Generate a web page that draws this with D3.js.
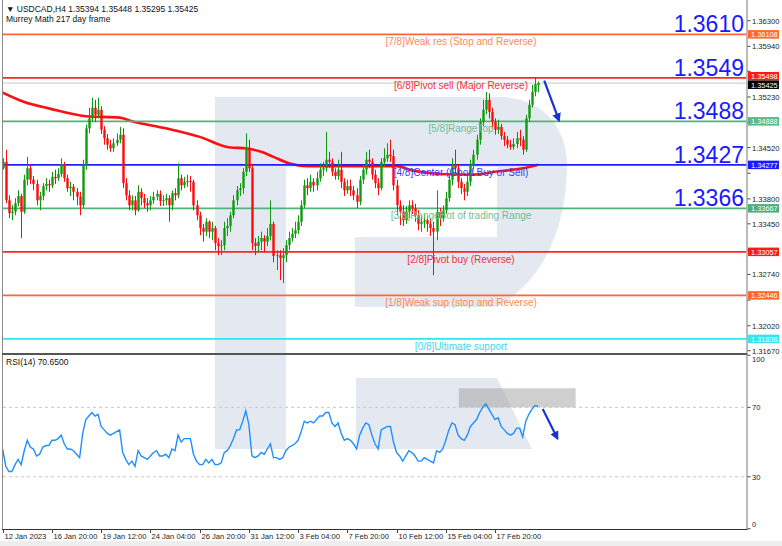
<!DOCTYPE html>
<html><head><meta charset="utf-8">
<script src="https://cdn.jsdelivr.net/npm/d3@7"></script>
<style>body{margin:0;background:#fff}svg{display:block}text{font-family:"Liberation Sans",Arial,sans-serif}</style>
</head><body>
<svg id="c" width="782" height="546"></svg>
<script>
// ---------------- DATA ----------------
const openP=[1.3423,1.3432,1.3378,1.3360,1.3362,1.3374,1.3384,1.3362,1.3407,1.3423,
1.3407,1.3401,1.3378,1.3384,1.3398,1.3401,1.3399,1.3411,1.3409,1.3415,
1.3429,1.3409,1.3395,1.3397,1.3390,1.3383,1.3371,1.3428,1.3479,1.3493,
1.3508,1.3498,1.3505,1.3477,1.3465,1.3456,1.3451,1.3458,1.3463,1.3470,
1.3402,1.3385,1.3371,1.3378,1.3364,1.3390,1.3381,1.3374,1.3371,1.3378,
1.3383,1.3387,1.3377,1.3378,1.3381,1.3371,1.3388,1.3385,1.3409,1.3399,
1.3404,1.3405,1.3404,1.3371,1.3357,1.3339,1.3334,1.3348,1.3334,1.3339,
1.3318,1.3314,1.3315,1.3339,1.3342,1.3357,1.3378,1.3392,1.3395,1.3418,
1.3451,1.3423,1.3318,1.3314,1.3320,1.3325,1.3320,1.3328,1.3345,1.3300,
1.3301,1.3297,1.3301,1.3315,1.3325,1.3331,1.3336,1.3348,1.3371,1.3399,
1.3395,1.3404,1.3399,1.3409,1.3421,1.3423,1.3435,1.3432,1.3418,1.3412,
1.3421,1.3404,1.3392,1.3398,1.3392,1.3385,1.3376,1.3407,1.3421,1.3435,
1.3432,1.3414,1.3402,1.3395,1.3432,1.3437,1.3442,1.3440,1.3399,1.3371,
1.3362,1.3350,1.3362,1.3371,1.3367,1.3357,1.3345,1.3348,1.3350,1.3345,
1.3339,1.3334,1.3362,1.3353,1.3364,1.3381,1.3407,1.3428,1.3423,1.3404,
1.3395,1.3390,1.3404,1.3428,1.3442,1.3463,1.3488,1.3505,1.3519,1.3502,
1.3488,1.3477,1.3481,1.3468,1.3463,1.3456,1.3453,1.3457,1.3465,1.3463,
1.3449,1.3493,1.3512,1.3530,1.35394];
const highP=[1.3437,1.3449,1.3385,1.3371,1.3381,1.3392,1.3387,1.3414,1.3439,1.3428,
1.3412,1.3407,1.3390,1.3402,1.3409,1.3407,1.3418,1.3421,1.3423,1.3437,
1.3432,1.3414,1.3404,1.3401,1.3395,1.3390,1.3435,1.3484,1.3508,1.3522,
1.3519,1.3522,1.3510,1.3482,1.3471,1.3463,1.3465,1.3472,1.3481,1.3479,
1.3409,1.3392,1.3385,1.3384,1.3399,1.3395,1.3387,1.3381,1.3384,1.3390,
1.3392,1.3392,1.3385,1.3387,1.3385,1.3392,1.3395,1.3430,1.3414,1.3411,
1.3414,1.3412,1.3407,1.3378,1.3362,1.3345,1.3353,1.3350,1.3348,1.3342,
1.3325,1.3322,1.3348,1.3353,1.3362,1.3385,1.3398,1.3402,1.3423,1.3472,
1.3463,1.3428,1.3325,1.3328,1.3334,1.3329,1.3339,1.3378,1.3348,1.3308,
1.3308,1.3311,1.3322,1.3334,1.3339,1.3348,1.3357,1.3378,1.3407,1.3409,
1.3414,1.3409,1.3418,1.3430,1.3432,1.3474,1.3446,1.3437,1.3423,1.3435,
1.3446,1.3409,1.3407,1.3407,1.3398,1.3395,1.3412,1.3428,1.3446,1.3449,
1.3437,1.3421,1.3409,1.3437,1.3451,1.3458,1.3463,1.3449,1.3407,1.3378,
1.3371,1.3370,1.3378,1.3378,1.3373,1.3364,1.3356,1.3359,1.3356,1.3353,
1.3348,1.3392,1.3367,1.3371,1.3390,1.3414,1.3437,1.3449,1.3429,1.3409,
1.3401,1.3412,1.3435,1.3449,1.3470,1.3493,1.3519,1.3530,1.3528,1.3508,
1.3493,1.3491,1.3485,1.3474,1.3468,1.3463,1.3465,1.3474,1.3477,1.3468,
1.3498,1.3519,1.3540,1.3551,1.35448];
const lowP=[1.3421,1.3374,1.3353,1.3350,1.3357,1.3370,1.3325,1.3359,1.3399,1.3401,
1.3392,1.3371,1.3364,1.3378,1.3392,1.3390,1.3395,1.3401,1.3405,1.3411,
1.3404,1.3390,1.3384,1.3378,1.3371,1.3357,1.3367,1.3421,1.3472,1.3488,
1.3488,1.3493,1.3471,1.3456,1.3449,1.3446,1.3446,1.3454,1.3458,1.3395,
1.3378,1.3364,1.3364,1.3357,1.3362,1.3371,1.3367,1.3362,1.3364,1.3373,
1.3378,1.3370,1.3370,1.3371,1.3348,1.3364,1.3378,1.3381,1.3392,1.3395,
1.3397,1.3390,1.3364,1.3350,1.3329,1.3320,1.3328,1.3325,1.3322,1.3308,
1.3301,1.3301,1.3308,1.3328,1.3334,1.3353,1.3371,1.3384,1.3387,1.3412,
1.3418,1.3308,1.3301,1.3305,1.3308,1.3305,1.3314,1.3322,1.3291,1.3280,
1.3266,1.3262,1.3291,1.3308,1.3320,1.3325,1.3331,1.3342,1.3367,1.3385,
1.3390,1.3390,1.3392,1.3404,1.3412,1.3418,1.3423,1.3412,1.3407,1.3407,
1.3395,1.3384,1.3387,1.3384,1.3378,1.3367,1.3371,1.3401,1.3414,1.3423,
1.3407,1.3395,1.3385,1.3392,1.3426,1.3432,1.3432,1.3392,1.3357,1.3343,
1.3342,1.3345,1.3353,1.3359,1.3348,1.3336,1.3334,1.3339,1.3334,1.3328,
1.3273,1.3322,1.3342,1.3348,1.3359,1.3376,1.3399,1.3414,1.3395,1.3387,
1.3378,1.3384,1.3398,1.3421,1.3435,1.3456,1.3482,1.3499,1.3493,1.3479,
1.3470,1.3471,1.3463,1.3454,1.3451,1.3449,1.3449,1.3451,1.3454,1.3442,
1.3446,1.3488,1.3508,1.3524,1.35295];
const closeP=[1.3432,1.3378,1.3360,1.3362,1.3374,1.3384,1.3362,1.3407,1.3423,1.3407,
1.3401,1.3378,1.3384,1.3398,1.3401,1.3399,1.3411,1.3409,1.3415,1.3429,
1.3409,1.3395,1.3397,1.3390,1.3383,1.3371,1.3428,1.3479,1.3493,1.3508,
1.3498,1.3505,1.3477,1.3465,1.3456,1.3451,1.3458,1.3463,1.3470,1.3402,
1.3385,1.3371,1.3378,1.3364,1.3390,1.3381,1.3374,1.3371,1.3378,1.3383,
1.3387,1.3377,1.3378,1.3381,1.3371,1.3388,1.3385,1.3409,1.3399,1.3404,
1.3405,1.3404,1.3371,1.3357,1.3339,1.3334,1.3348,1.3334,1.3339,1.3318,
1.3314,1.3315,1.3339,1.3342,1.3357,1.3378,1.3392,1.3395,1.3418,1.3451,
1.3423,1.3318,1.3314,1.3320,1.3325,1.3320,1.3328,1.3345,1.3300,1.3301,
1.3297,1.3301,1.3315,1.3325,1.3331,1.3336,1.3348,1.3371,1.3399,1.3395,
1.3404,1.3399,1.3409,1.3421,1.3423,1.3435,1.3432,1.3418,1.3412,1.3421,
1.3404,1.3392,1.3398,1.3392,1.3385,1.3376,1.3407,1.3421,1.3435,1.3432,
1.3414,1.3402,1.3395,1.3432,1.3437,1.3442,1.3440,1.3399,1.3371,1.3362,
1.3350,1.3362,1.3371,1.3367,1.3357,1.3345,1.3348,1.3350,1.3345,1.3339,
1.3334,1.3362,1.3353,1.3364,1.3381,1.3407,1.3428,1.3423,1.3404,1.3395,
1.3390,1.3404,1.3428,1.3442,1.3463,1.3488,1.3505,1.3519,1.3502,1.3488,
1.3477,1.3481,1.3468,1.3463,1.3456,1.3453,1.3457,1.3465,1.3463,1.3449,
1.3493,1.3512,1.3530,1.3541,1.35425];
const rsiValues=[46,36,33,33,37,40,37,45,51,47,
46,42,43,47,48,48,51,51,52,54,
49,46,46,45,43,41,55,63,65,67,
65,66,59,57,55,54,55,56,57,44,
40,37,39,36,45,42,41,40,42,44,
45,42,42,43,41,46,45,54,50,52,
52,52,43,39,37,37,40,38,40,37,
37,38,44,45,48,52,57,57,62,68,
60,42,41,42,44,43,46,49,41,41,
40,41,45,47,48,49,51,56,62,61,
62,61,63,65,65,67,67,61,59,61,
55,51,52,51,49,46,54,58,61,60,
54,49,46,57,58,59,59,50,44,42,
39,42,45,44,42,39,39,41,40,39,
38,45,44,46,51,57,61,60,54,52,
51,54,59,61,63,67,70,72,69,66,
63,64,59,57,55,54,55,58,58,53,
62,66,69,71,70.65];
const maBars=[0,7,15,27,38,42,53,64,74,79,84,88,93,99,115,128,133,142,153,160,169,174];
const maValues=[1.3529,1.3516,1.3507,1.3496,1.3494,1.3489,1.3479,1.3467,1.3452,1.3451,1.3446,1.3439,1.3430,1.3426,1.3426,1.3426,1.3420,1.3415,1.3414,1.3418,1.3423,1.3428];
const levelValues=[1.36108,1.35498,1.34888,1.34277,1.33667,1.33057,1.32446,1.31836];
const levelLabels=["[7/8]Weak res (Stop and Reverse)","[6/8]Pivot sell (Major Reverse)","[5/8]RangeTop","[4/8]Center (Good Buy or Sell)","[3/8]RangeBot of trading Range","[2/8]Pivot buy (Reverse)","[1/8]Weak sup (stop and Reverse)","[0/8]Ultimate support"];
const bigLabels=["1.3610","1.3549","1.3488","1.3427","1.3366"];
const currentPrice=1.35425;
const priceTicks=[1.36300,1.35940,1.35590,1.35230,1.34870,1.34520,1.34160,1.33800,1.33450,1.33090,1.32740,1.32380,1.32020,1.31670];
const rsiTicks=[100,70,30,0];
const rsiLevels=[70,30];
const timeTickBars=[0,16,32,48,64,80,96,112,128,144,160];
const timeTickLabels=["12 Jan 2023","16 Jan 20:00","19 Jan 12:00","24 Jan 04:00","26 Jan 20:00","31 Jan 12:00","3 Feb 04:00","7 Feb 20:00","10 Feb 12:00","15 Feb 04:00","17 Feb 20:00"];
const headerLine1="USDCAD,H4  1.35394 1.35448 1.35295 1.35425";
const headerLine2="Murrey Math 217 day frame";
const rsiTitle="RSI(14) 70.6500";
const arrowMain={fromBar:176,fromPrice:1.3546,toBar:180.8,toPrice:1.3490};
const arrowRsi={fromBar:175.5,fromRsi:69,toBar:180.3,toRsi:52};
const rsiBoxBars=[148.2,186.2], rsiBoxRange=[70,81];

// ---------------- STYLE ----------------
const levelLineColors=["#ff6633","#ff2626","#52b27e","#1f1fff","#52b27e","#ff2626","#ff6633","#2ee6ee"];
const levelTextColors=["#ff8a55","#f0303a","#6cc095","#3a3aff","#6cc095","#f0303a","#ff8a55","#3cd8e8"];
const levelBoxColors=["#ff6a2a","#ff1a1a","#5cb887","#1a1aff","#4caf7a","#ff1a1a","#ff6a2a","#33e6ee"];
const shade="#e4e9f1";

const svg=d3.select("#c");
const pL=3,pR=746.5,mainTop=1,mainBot=353,rsiTop=355.5,rsiBot=529;
const x=d3.scaleLinear().domain([0,174]).range([2.7,538.1]);
const y=d3.scaleLinear().domain([1.3167,1.3630]).range([350.7,20.7]);
const yr=d3.scaleLinear().domain([0,100]).range([528.8,355.3]);

const defs=svg.append("defs");
defs.append("clipPath").attr("id","cm").append("rect").attr("x",pL).attr("y",mainTop).attr("width",pR-pL).attr("height",mainBot-mainTop);
defs.append("clipPath").attr("id","cr").append("rect").attr("x",pL).attr("y",rsiTop).attr("width",pR-pL).attr("height",rsiBot-rsiTop);
defs.append("marker").attr("id","ah").attr("viewBox","0 0 10 10").attr("refX",8).attr("refY",5)
  .attr("markerWidth",4).attr("markerHeight",4).attr("orient","auto")
  .append("path").attr("d","M0,0L10,5L0,10Z").attr("fill","#1733d6");

// background logo shading
const bg=svg.append("g");
bg.append("rect").attr("x",215).attr("y",97).attr("width",71).attr("height",352).attr("fill",shade);
bg.append("path").attr("d","M286,97H500C540,97 567,125 567,165C567,225 545,280 497,307H355V237H497V167H286Z").attr("fill",shade);
bg.append("path").attr("d","M356,378H497L532,449H356Z").attr("fill",shade);

// main panel
const gm=svg.append("g").attr("clip-path","url(#cm)");
gm.append("line").attr("x1",pL).attr("x2",pR).attr("y1",y(currentPrice)).attr("y2",y(currentPrice)).attr("stroke","#c8c8c8").attr("stroke-width",1);
gm.append("path").datum(maBars.map((b,i)=>[b,maValues[i]]))
  .attr("d",d3.line().x(d=>x(d[0])).y(d=>y(d[1])).curve(d3.curveMonotoneX))
  .attr("fill","none").attr("stroke","#ff1010").attr("stroke-width",2.6);
levelValues.forEach((v,i)=>{
  gm.append("line").attr("x1",pL).attr("x2",pR).attr("y1",y(v)).attr("y2",y(v))
    .attr("stroke",levelLineColors[i]).attr("stroke-width",1.7);
});
const cg=gm.append("g");
closeP.forEach((c,i)=>{
  const o=openP[i],h=highP[i],l=lowP[i];
  const col=c>=o?"#109a10":"#ff0a0a";
  const cx=Math.round(x(i))+0.5;
  cg.append("line").attr("x1",cx).attr("x2",cx).attr("y1",y(h)).attr("y2",y(l)).attr("stroke",col).attr("stroke-width",1);
  const top=y(Math.max(o,c)),bot=y(Math.min(o,c));
  cg.append("rect").attr("x",cx-1.2).attr("y",top).attr("width",2.4).attr("height",Math.max(1,bot-top)).attr("fill",col);
});
levelValues.forEach((v,i)=>{
  gm.append("text").attr("x",461).attr("y",y(v)+11).attr("text-anchor","middle")
    .attr("font-size",10).attr("fill",levelTextColors[i]).text(levelLabels[i]);
});
bigLabels.forEach((t,i)=>{
  gm.append("text").attr("x",744).attr("y",y(levelValues[i])-2).attr("text-anchor","end")
    .attr("font-size",23).attr("fill","#1a1aff").text(t);
});
gm.append("line").attr("x1",x(arrowMain.fromBar)).attr("y1",y(arrowMain.fromPrice))
  .attr("x2",x(arrowMain.toBar)).attr("y2",y(arrowMain.toPrice))
  .attr("stroke","#1733d6").attr("stroke-width",2.2).attr("marker-end","url(#ah)");

// header
svg.append("text").attr("x",6).attr("y",12).attr("font-size",8.5).attr("fill","#111").text("\u25BC "+headerLine1);
svg.append("text").attr("x",6).attr("y",22).attr("font-size",8.5).attr("fill","#111").text(headerLine2);

// RSI panel
const gr=svg.append("g").attr("clip-path","url(#cr)");
gr.append("rect").attr("x",x(rsiBoxBars[0])).attr("y",yr(rsiBoxRange[1])).attr("width",x(rsiBoxBars[1])-x(rsiBoxBars[0]))
  .attr("height",yr(rsiBoxRange[0])-yr(rsiBoxRange[1])).attr("fill","rgba(160,160,160,0.5)");
rsiLevels.forEach(v=>{
  gr.append("line").attr("x1",pL).attr("x2",pR).attr("y1",yr(v)).attr("y2",yr(v))
    .attr("stroke","#c8c8c8").attr("stroke-dasharray","3,3");
});
gr.append("path").datum(rsiValues)
  .attr("d",d3.line().x((d,i)=>x(i)).y(d=>yr(d)))
  .attr("fill","none").attr("stroke","#1e8fff").attr("stroke-width",1.4);
gr.append("line").attr("x1",x(arrowRsi.fromBar)).attr("y1",yr(arrowRsi.fromRsi))
  .attr("x2",x(arrowRsi.toBar)).attr("y2",yr(arrowRsi.toRsi))
  .attr("stroke","#1733d6").attr("stroke-width",2.2).attr("marker-end","url(#ah)");
svg.append("text").attr("x",6).attr("y",365).attr("font-size",8.5).attr("fill","#111").text(rsiTitle);

// frames
svg.append("line").attr("x1",2.5).attr("x2",2.5).attr("y1",0).attr("y2",rsiBot).attr("stroke","#8a8a8a");
svg.append("line").attr("x1",pR+0.5).attr("x2",pR+0.5).attr("y1",0).attr("y2",rsiBot).attr("stroke","#777");
svg.append("rect").attr("x",2).attr("y",353).attr("width",pR-1.5).attr("height",2).attr("fill","#555");
svg.append("line").attr("x1",2).attr("x2",pR+1).attr("y1",rsiBot+0.5).attr("y2",rsiBot+0.5).attr("stroke","#333");
svg.append("rect").attr("x",0).attr("y",541).attr("width",782).attr("height",5).attr("fill","#eeeeee");

// price axis: boxes for levels + current price
const boxVals=levelValues.map((v,i)=>({v,c:levelBoxColors[i]}));
boxVals.splice(2,0,{v:currentPrice,c:"#000"});
// box centres, nudged apart so labels never overlap
const boxY=boxVals.map(b=>y(b.v));
for(let k=1;k<boxY.length;k++){ if(boxY[k]-boxY[k-1]<8.5){const m=(boxY[k]+boxY[k-1])/2; boxY[k-1]=m-4.25; boxY[k]=m+4.25;} }
const ax=svg.append("g");
priceTicks.forEach(t=>{
  const ty=y(t);
  ax.append("line").attr("x1",pR+1).attr("x2",pR+4).attr("y1",ty).attr("y2",ty).attr("stroke","#444");
  if(boxY.some(by=>Math.abs(by-ty)<8.5)) return; // covered by a level box, as in the reference
  ax.append("text").attr("x",752).attr("y",ty+3).attr("font-size",7.6).attr("fill","#222").text(t.toFixed(5));
});
boxVals.forEach((b,k)=>{
  ax.append("rect").attr("x",748).attr("y",boxY[k]-4.25).attr("width",31).attr("height",8.5).attr("fill",b.c);
  ax.append("text").attr("x",751).attr("y",boxY[k]+2.8).attr("font-size",7.4).attr("fill","#fff").text(b.v.toFixed(5));
});
rsiTicks.forEach(t=>{
  const ty=yr(t);
  ax.append("line").attr("x1",pR+1).attr("x2",pR+4).attr("y1",ty).attr("y2",ty).attr("stroke","#444");
  ax.append("text").attr("x",752).attr("y",Math.min(Math.max(ty,359),524)+3).attr("font-size",7.6).attr("fill","#222").text(t);
});
timeTickBars.forEach((b,i)=>{
  const tx=Math.round(x(b))+0.5;
  ax.append("line").attr("x1",tx).attr("x2",tx).attr("y1",rsiBot).attr("y2",rsiBot+4).attr("stroke","#444");
  ax.append("text").attr("x",tx+1).attr("y",539).attr("font-size",7.6).attr("fill","#222").text(timeTickLabels[i]);
});
</script>
</body></html>
